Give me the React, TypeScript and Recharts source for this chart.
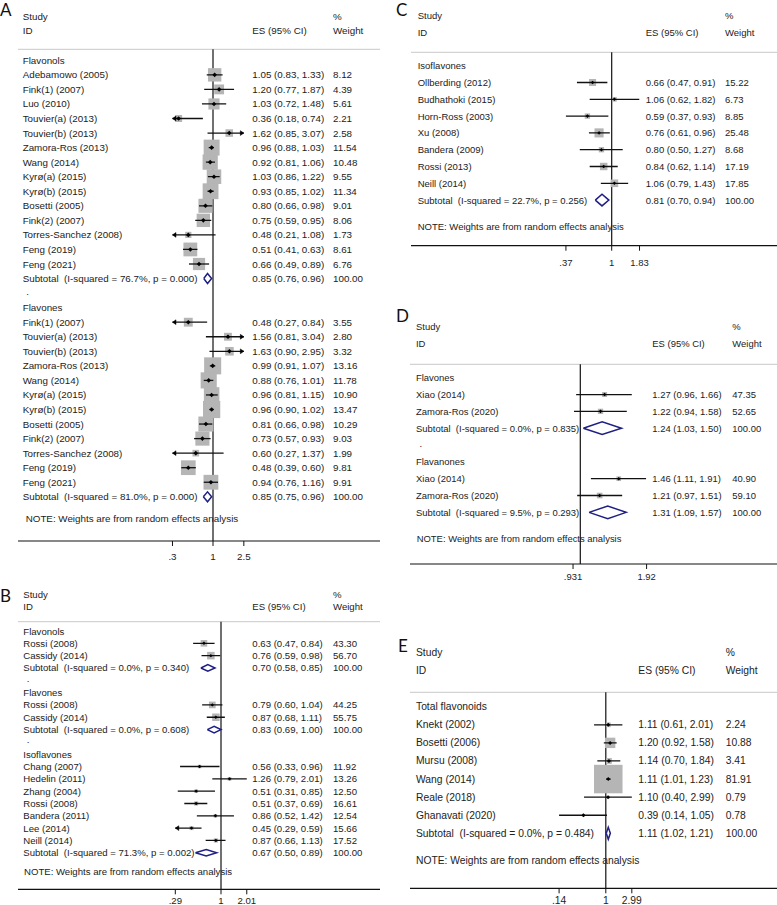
import React from 'react';
import { ComposedChart, Scatter, XAxis, YAxis, ReferenceLine } from 'recharts';

type Study = [string, number, number, number, number]; // name, ES, lower CI, upper CI, weight
type Sub = [number, number, number, number, number]; // ES, lower, upper, I-squared, p

// ---------- Panel A ----------
const A_FLAVONOLS: Study[] = [
  ['Adebamowo (2005)', 1.05, 0.83, 1.33, 8.12],
  ['Fink(1) (2007)', 1.2, 0.77, 1.87, 4.39],
  ['Luo (2010)', 1.03, 0.72, 1.48, 5.61],
  ['Touvier(a) (2013)', 0.36, 0.18, 0.74, 2.21],
  ['Touvier(b) (2013)', 1.62, 0.85, 3.07, 2.58],
  ['Zamora-Ros (2013)', 0.96, 0.88, 1.03, 11.54],
  ['Wang (2014)', 0.92, 0.81, 1.06, 10.48],
  ['Kyrø(a) (2015)', 1.03, 0.86, 1.22, 9.55],
  ['Kyrø(b) (2015)', 0.93, 0.85, 1.02, 11.34],
  ['Bosetti (2005)', 0.8, 0.66, 0.98, 9.01],
  ['Fink(2) (2007)', 0.75, 0.59, 0.95, 8.06],
  ['Torres-Sanchez (2008)', 0.48, 0.21, 1.08, 1.73],
  ['Feng (2019)', 0.51, 0.41, 0.63, 8.61],
  ['Feng (2021)', 0.66, 0.49, 0.89, 6.76],
];
const A_FLAVONOLS_SUB: Sub = [0.85, 0.76, 0.96, 76.7, 0.0];
const A_FLAVONES: Study[] = [
  ['Fink(1) (2007)', 0.48, 0.27, 0.84, 3.55],
  ['Touvier(a) (2013)', 1.56, 0.81, 3.04, 2.8],
  ['Touvier(b) (2013)', 1.63, 0.9, 2.95, 3.32],
  ['Zamora-Ros (2013)', 0.99, 0.91, 1.07, 13.16],
  ['Wang (2014)', 0.88, 0.76, 1.01, 11.78],
  ['Kyrø(a) (2015)', 0.96, 0.81, 1.15, 10.9],
  ['Kyrø(b) (2015)', 0.96, 0.9, 1.02, 13.47],
  ['Bosetti (2005)', 0.81, 0.66, 0.98, 10.29],
  ['Fink(2) (2007)', 0.73, 0.57, 0.93, 9.03],
  ['Torres-Sanchez (2008)', 0.6, 0.27, 1.37, 1.99],
  ['Feng (2019)', 0.48, 0.39, 0.6, 9.81],
  ['Feng (2021)', 0.94, 0.76, 1.16, 9.91],
];
const A_FLAVONES_SUB: Sub = [0.85, 0.75, 0.96, 81.0, 0.0];
const A_TICKS = [0.3, 1, 2.5];
const A_TICK_LABELS = ['.3', '1', '2.5'];

// ---------- Panel B ----------
const B_FLAVONOLS: Study[] = [
  ['Rossi (2008)', 0.63, 0.47, 0.84, 43.3],
  ['Cassidy (2014)', 0.76, 0.59, 0.98, 56.7],
];
const B_FLAVONOLS_SUB: Sub = [0.7, 0.58, 0.85, 0.0, 0.34];
const B_FLAVONES: Study[] = [
  ['Rossi (2008)', 0.79, 0.6, 1.04, 44.25],
  ['Cassidy (2014)', 0.87, 0.68, 1.11, 55.75],
];
const B_FLAVONES_SUB: Sub = [0.83, 0.69, 1.0, 0.0, 0.608];
const B_ISOFLAVONES: Study[] = [
  ['Chang (2007)', 0.56, 0.33, 0.96, 11.92],
  ['Hedelin (2011)', 1.26, 0.79, 2.01, 13.26],
  ['Zhang (2004)', 0.51, 0.31, 0.85, 12.5],
  ['Rossi (2008)', 0.51, 0.37, 0.69, 16.61],
  ['Bandera (2011)', 0.86, 0.52, 1.42, 12.54],
  ['Lee (2014)', 0.45, 0.287, 0.59, 15.66],
  ['Neill (2014)', 0.87, 0.66, 1.13, 17.52],
];
const B_ISOFLAVONES_SUB: Sub = [0.67, 0.5, 0.89, 71.3, 0.002];
const B_TICKS = [0.29, 1, 2.01];
const B_TICK_LABELS = ['.29', '1', '2.01'];

// ---------- Panel C ----------
const C_ISOFLAVONES: Study[] = [
  ['Ollberding (2012)', 0.66, 0.47, 0.91, 15.22],
  ['Budhathoki (2015)', 1.06, 0.62, 1.82, 6.73],
  ['Horn-Ross (2003)', 0.59, 0.37, 0.93, 8.85],
  ['Xu (2008)', 0.76, 0.61, 0.96, 25.48],
  ['Bandera (2009)', 0.8, 0.5, 1.27, 8.68],
  ['Rossi (2013)', 0.84, 0.62, 1.14, 17.19],
  ['Neill (2014)', 1.06, 0.79, 1.43, 17.85],
];
const C_ISOFLAVONES_SUB: Sub = [0.81, 0.7, 0.94, 22.7, 0.256];
const C_TICKS = [0.37, 1, 1.83];
const C_TICK_LABELS = ['.37', '1', '1.83'];

// ---------- Panel D ----------
const D_FLAVONES: Study[] = [
  ['Xiao (2014)', 1.27, 0.96, 1.66, 47.35],
  ['Zamora-Ros (2020)', 1.22, 0.94, 1.58, 52.65],
];
const D_FLAVONES_SUB: Sub = [1.24, 1.03, 1.5, 0.0, 0.835];
const D_FLAVANONES: Study[] = [
  ['Xiao (2014)', 1.46, 1.11, 1.91, 40.9],
  ['Zamora-Ros (2020)', 1.21, 0.97, 1.51, 59.1],
];
const D_FLAVANONES_SUB: Sub = [1.31, 1.09, 1.57, 9.5, 0.293];
const D_TICKS = [0.931, 1.92];
const D_TICK_LABELS = ['.931', '1.92'];

// ---------- Panel E ----------
const E_TOTAL: Study[] = [
  ['Knekt (2002)', 1.11, 0.61, 2.01, 2.24],
  ['Bosetti (2006)', 1.2, 0.92, 1.58, 10.88],
  ['Mursu (2008)', 1.14, 0.7, 1.84, 3.41],
  ['Wang (2014)', 1.11, 1.01, 1.23, 81.91],
  ['Reale (2018)', 1.1, 0.4, 2.99, 0.79],
  ['Ghanavati (2020)', 0.39, 0.14, 1.05, 0.78],
];
const E_TOTAL_SUB: Sub = [1.11, 1.02, 1.21, 0.0, 0.484];
const E_TICKS = [0.14, 1, 2.99];
const E_TICK_LABELS = ['.14', '1', '2.99'];

// ---------- layout (pixels) ----------
const FONT = '"Liberation Sans", Arial, Helvetica, sans-serif';
const TEXT = '#222';
const NAVY = '#1f1f86';

interface Spec {
  letter: string; letterX: number; letterY: number;
  left: number; top: number; width: number; height: number;
  plotLeft: number; plotRight: number; divY: number; axisY: number;
  row0Y: number; pitch: number; x1: number; k: number;
  labelX: number; esX: number; wX: number; headY1: number; headY2: number;
  fontSize: number; boxScale: number; diamondHalf: number; markHalf: number;
  tickOff: number; noteGap: number; noteIndent: number;
}

const SPEC_A: Spec = {
  letter: 'A', letterX: 0, letterY: 15.5,
  left: 0, top: 0, width: 388, height: 575,
  plotLeft: 18, plotRight: 380, divY: 49.3, axisY: 541,
  row0Y: 60.3, pitch: 14.55, x1: 213, k: 77.5,
  labelX: 22.7, esX: 252.3, wX: 333, headY1: 16, headY2: 30.7,
  fontSize: 9.8, boxScale: 4.7, diamondHalf: 5, markHalf: 2.3,
  tickOff: 15, noteGap: 1.5, noteIndent: 3,
};
const SPEC_B: Spec = {
  letter: 'B', letterX: 0, letterY: 601.5,
  left: 0, top: 580, width: 388, height: 325,
  plotLeft: 18, plotRight: 380, divY: 621.7, axisY: 889.3,
  row0Y: 631, pitch: 12.32, x1: 221, k: 85,
  labelX: 23.3, esX: 252.3, wX: 333, headY1: 594, headY2: 606,
  fontSize: 9.6, boxScale: 1.0, diamondHalf: 3.3, markHalf: 1.7,
  tickOff: 10.8, noteGap: 1.54, noteIndent: 0.7,
};
const SPEC_C: Spec = {
  letter: 'C', letterX: 396, letterY: 16,
  left: 390, top: 0, width: 387, height: 280,
  plotLeft: 411, plotRight: 777, divY: 52.3, axisY: 245.7,
  row0Y: 65.7, pitch: 16.8, x1: 611.7, k: 106,
  labelX: 417.7, esX: 645.7, wX: 725, headY1: 15, headY2: 32.3,
  fontSize: 9.5, boxScale: 1.8, diamondHalf: 5.8, markHalf: 1.8,
  tickOff: 16.5, noteGap: 1.58, noteIndent: 0,
};
const SPEC_D: Spec = {
  letter: 'D', letterX: 396, letterY: 322,
  left: 390, top: 285, width: 387, height: 320,
  plotLeft: 410, plotRight: 777, divY: 364.3, axisY: 564,
  row0Y: 377.7, pitch: 16.83, x1: 580.3, k: 234,
  labelX: 416, esX: 652.3, wX: 732.3, headY1: 326.7, headY2: 343.3,
  fontSize: 9.45, boxScale: 0.73, diamondHalf: 6.3, markHalf: 1.8,
  tickOff: 12.7, noteGap: 1.54, noteIndent: 0.7,
};
const SPEC_E: Spec = {
  letter: 'E', letterX: 398, letterY: 652,
  left: 390, top: 620, width: 387, height: 285,
  plotLeft: 410, plotRight: 777, divY: 692.3, axisY: 888.3,
  row0Y: 706.7, pitch: 18.09, x1: 605.8, k: 54.7,
  labelX: 416, esX: 638.3, wX: 725.7, headY1: 652.3, headY2: 670,
  fontSize: 10.3, boxScale: 3.15, diamondHalf: 6, markHalf: 2,
  tickOff: 12.2, noteGap: 1.5, noteIndent: 0,
};

interface Group { name: string; studies: Study[]; sub: Sub }
interface Row {
  y: number; kind: 'head' | 'study' | 'sub' | 'dot' | 'note'; label: string;
  es?: number; lci?: number; uci?: number; w?: number;
}

function buildRows(groups: Group[], noteGap: number): Row[] {
  const rows: Row[] = [];
  let i = 0;
  groups.forEach((g, gi) => {
    if (gi > 0) { rows.push({ y: i, kind: 'dot', label: '.' }); i++; }
    rows.push({ y: i, kind: 'head', label: g.name }); i++;
    g.studies.forEach((s) => {
      rows.push({ y: i, kind: 'study', label: s[0], es: s[1], lci: s[2], uci: s[3], w: s[4] });
      i++;
    });
    rows.push({
      y: i, kind: 'sub',
      label: `Subtotal  (I-squared = ${g.sub[3].toFixed(1)}%, p = ${g.sub[4].toFixed(3)})`,
      es: g.sub[0], lci: g.sub[1], uci: g.sub[2], w: 100,
    });
    i++;
  });
  rows.push({ y: i - 1 + noteGap, kind: 'note', label: 'NOTE: Weights are from random effects analysis' });
  return rows;
}

const emptyShape = () => <g />;
const Y_AXIS_W = 1;

function ForestPanel({ spec, groups, ticks, tickLabels }: { spec: Spec; groups: Group[]; ticks: number[]; tickLabels: string[] }) {
  const rows = buildRows(groups, spec.noteGap);
  const { left, top, width, height } = spec;
  const yTop = (spec.divY - spec.row0Y) / spec.pitch;
  const yBot = (spec.axisY - spec.row0Y) / spec.pitch;
  const xMin = Math.pow(10, (spec.plotLeft - spec.x1) / spec.k);
  const xMax = Math.pow(10, (spec.plotRight - spec.x1) / spec.k);
  const tMin = ticks[0];
  const tMax = ticks[ticks.length - 1];
  const studies = rows.filter((r) => r.kind === 'study');
  const subs = rows.filter((r) => r.kind === 'sub');
  const arrows: { x: number; y: number; dir: number }[] = [];
  studies.forEach((r) => {
    if ((r.lci as number) < tMin) arrows.push({ x: tMin, y: r.y, dir: -1 });
    if ((r.uci as number) > tMax) arrows.push({ x: tMax, y: r.y, dir: 1 });
  });
  const hh = spec.diamondHalf / spec.pitch;
  const axisH = 10;
  const fs = spec.fontSize;

  const boxShape = (p: any) => {
    const s = spec.boxScale * Math.sqrt(p.payload.w);
    return <rect x={p.cx - s / 2} y={p.cy - s / 2} width={s} height={s} fill="#b5b5b5" />;
  };
  const markShape = (p: any) => {
    const m = spec.markHalf;
    return <path d={`M${p.cx - m},${p.cy}L${p.cx},${p.cy - m}L${p.cx + m},${p.cy}L${p.cx},${p.cy + m}Z`} fill="#000" />;
  };
  const arrowShape = (p: any) => {
    const d = p.payload.dir;
    const bx = p.cx - d * 3.5;
    return <path d={`M${p.cx},${p.cy}L${bx},${p.cy - 2.4}L${bx},${p.cy + 2.4}Z`} fill="#000" stroke="#000" strokeWidth={0.5} />;
  };

  const yTick = (p: any) => {
    const row = rows.find((r) => Math.abs(r.y - p.payload.value) < 1e-6);
    if (!row) return <g />;
    const lx = spec.labelX - left;
    const common = { fontSize: fs, fontFamily: FONT, fill: TEXT, dominantBaseline: 'central' as const };
    if (row.kind === 'dot') {
      return <text x={lx + 3.5} y={p.y - 2} {...common}>.</text>;
    }
    if (row.kind === 'note') {
      return <text x={lx + spec.noteIndent} y={p.y} {...common}>{row.label}</text>;
    }
    if (row.kind === 'head') {
      return <text x={lx} y={p.y} {...common}>{row.label}</text>;
    }
    return (
      <g>
        <text x={lx} y={p.y} {...common} style={{ whiteSpace: 'pre' }}>{row.label}</text>
        <text x={spec.esX - left} y={p.y} {...common}>
          {`${(row.es as number).toFixed(2)} (${(row.lci as number).toFixed(2)}, ${(row.uci as number).toFixed(2)})`}
        </text>
        <text x={spec.wX - left} y={p.y} {...common}>{(row.w as number).toFixed(2)}</text>
      </g>
    );
  };

  const xTick = (p: any) => {
    const idx = ticks.findIndex((t) => Math.abs(t - p.payload.value) < 1e-9);
    return (
      <text x={p.x} y={p.y - 5 + spec.tickOff} textAnchor="middle" dominantBaseline="central"
        fontSize={fs} fontFamily={FONT} fill={TEXT}>
        {idx >= 0 ? tickLabels[idx] : ''}
      </text>
    );
  };

  return (
    <div style={{ position: 'absolute', left, top, width, height }}>
      <ComposedChart
        width={width}
        height={height}
        style={{ overflow: 'visible' }}
        margin={{
          top: spec.divY - top,
          left: spec.plotLeft - left - Y_AXIS_W,
          right: left + width - spec.plotRight,
          bottom: top + height - spec.axisY - axisH,
        }}
      >
        <XAxis
          type="number" dataKey="x" scale="log" domain={[xMin, xMax]} allowDataOverflow
          ticks={ticks} interval={0} height={axisH} tickSize={5} tickMargin={0}
          axisLine={{ stroke: '#111', strokeWidth: 1.2 }} tickLine={{ stroke: '#111', strokeWidth: 1 }}
          tick={xTick}
        />
        <YAxis
          type="number" dataKey="y" domain={[yTop, yBot]} reversed allowDataOverflow width={Y_AXIS_W}
          ticks={rows.map((r) => r.y)} interval={0} axisLine={false} tickLine={false} tick={yTick}
        />
        <ReferenceLine y={yTop} stroke="#c9c9c9" strokeWidth={1} />
        <Scatter
          data={studies.map((r) => ({ x: r.es, y: r.y, w: r.w }))}
          shape={boxShape} isAnimationActive={false}
        />
        {studies.map((r) => (
          <Scatter
            key={`ci${r.y}`}
            data={[
              { x: Math.max(r.lci as number, tMin), y: r.y },
              { x: Math.min(r.uci as number, tMax), y: r.y },
            ]}
            line={{ stroke: '#111', strokeWidth: 1.3 }}
            shape={emptyShape} isAnimationActive={false}
          />
        ))}
        <Scatter data={arrows} shape={arrowShape} isAnimationActive={false} />
        <Scatter
          data={studies.map((r) => ({ x: r.es, y: r.y }))}
          shape={markShape} isAnimationActive={false}
        />
        {subs.map((r) => (
          <Scatter
            key={`d${r.y}`}
            data={[
              { x: r.lci, y: r.y },
              { x: r.es, y: r.y - hh },
              { x: r.uci, y: r.y },
              { x: r.es, y: r.y + hh },
              { x: r.lci, y: r.y },
            ]}
            line={{ stroke: NAVY, strokeWidth: 1.5 }}
            shape={emptyShape} isAnimationActive={false}
          />
        ))}
        <ReferenceLine x={1} stroke="#111" strokeWidth={1.2} />
      </ComposedChart>
    </div>
  );
}

function Headers({ spec }: { spec: Spec }) {
  const common = { fontSize: spec.fontSize, fontFamily: FONT, fill: TEXT, dominantBaseline: 'central' as const };
  return (
    <g>
      <text x={spec.letterX} y={spec.letterY} fontSize={17} fontFamily='Lato, "Open Sans", sans-serif' fill="#111">
        {spec.letter}
      </text>
      <text x={spec.labelX} y={spec.headY1} {...common}>Study</text>
      <text x={spec.labelX} y={spec.headY2} {...common}>ID</text>
      <text x={spec.esX} y={spec.headY2} {...common}>ES (95% CI)</text>
      <text x={spec.wX} y={spec.headY1} {...common}>%</text>
      <text x={spec.wX} y={spec.headY2} {...common}>Weight</text>
    </g>
  );
}

export default function App() {
  return (
    <div style={{ position: 'absolute', left: 0, top: 0, width: 777, height: 905, background: '#fff', overflow: 'hidden' }}>
      <ForestPanel
        spec={SPEC_A}
        groups={[
          { name: 'Flavonols', studies: A_FLAVONOLS, sub: A_FLAVONOLS_SUB },
          { name: 'Flavones', studies: A_FLAVONES, sub: A_FLAVONES_SUB },
        ]}
        ticks={A_TICKS} tickLabels={A_TICK_LABELS}
      />
      <ForestPanel
        spec={SPEC_B}
        groups={[
          { name: 'Flavonols', studies: B_FLAVONOLS, sub: B_FLAVONOLS_SUB },
          { name: 'Flavones', studies: B_FLAVONES, sub: B_FLAVONES_SUB },
          { name: 'Isoflavones', studies: B_ISOFLAVONES, sub: B_ISOFLAVONES_SUB },
        ]}
        ticks={B_TICKS} tickLabels={B_TICK_LABELS}
      />
      <ForestPanel
        spec={SPEC_C}
        groups={[{ name: 'Isoflavones', studies: C_ISOFLAVONES, sub: C_ISOFLAVONES_SUB }]}
        ticks={C_TICKS} tickLabels={C_TICK_LABELS}
      />
      <ForestPanel
        spec={SPEC_D}
        groups={[
          { name: 'Flavones', studies: D_FLAVONES, sub: D_FLAVONES_SUB },
          { name: 'Flavanones', studies: D_FLAVANONES, sub: D_FLAVANONES_SUB },
        ]}
        ticks={D_TICKS} tickLabels={D_TICK_LABELS}
      />
      <ForestPanel
        spec={SPEC_E}
        groups={[{ name: 'Total flavonoids', studies: E_TOTAL, sub: E_TOTAL_SUB }]}
        ticks={E_TICKS} tickLabels={E_TICK_LABELS}
      />
      <svg width={777} height={905} style={{ position: 'absolute', left: 0, top: 0, pointerEvents: 'none' }}>
        <Headers spec={SPEC_A} />
        <Headers spec={SPEC_B} />
        <Headers spec={SPEC_C} />
        <Headers spec={SPEC_D} />
        <Headers spec={SPEC_E} />
      </svg>
    </div>
  );
}
